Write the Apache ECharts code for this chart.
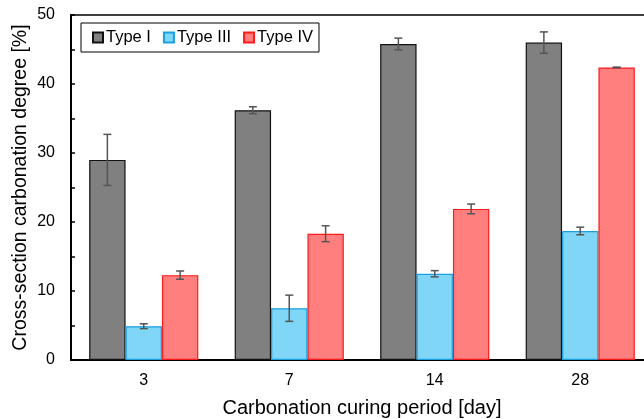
<!DOCTYPE html>
<html><head><meta charset="utf-8">
<script src="https://cdn.jsdelivr.net/npm/echarts@6/dist/echarts.min.js"></script>
<style>html,body{margin:0;padding:0;background:#fff}#c{width:644px;height:419px}</style>
</head><body><div id="c"></div>
<script>
const categories = ['3', '7', '14', '28'];
const seriesNames = ['Type I', 'Type III', 'Type IV'];
const typeI = [29.0, 36.2, 45.8, 46.0];
const typeIErr = [3.7, 0.5, 0.85, 1.55];
const typeIII = [4.9, 7.5, 12.5, 18.7];
const typeIIIErr = [0.35, 1.9, 0.45, 0.55];
const typeIV = [12.3, 18.3, 21.9, 42.4];
const typeIVErr = [0.6, 1.15, 0.7, 0.05];
const yTicks = [0, 10, 20, 30, 40, 50];

const values = [typeI, typeIII, typeIV];
const errs = [typeIErr, typeIIIErr, typeIVErr];
const fills = ['#808080', '#80d6f7', '#ff7f7f'];
const borders = ['#111111', '#1a9fe0', '#ff1a1a'];
const FONT = 'Liberation Sans, Arial, sans-serif';

const chart = echarts.init(document.getElementById('c'), null, {renderer: 'canvas'});

const errData = [];
values.forEach((vals, s) => vals.forEach((v, i) => errData.push([i, v - errs[s][i], v + errs[s][i], s])));

const series = values.map((vals, s) => ({
  name: seriesNames[s], type: 'bar', data: vals, barWidth: '25%', barGap: '0%',
  itemStyle: {color: fills[s], borderColor: borders[s], borderWidth: 1.2},
  animation: false
}));
series.push({
  type: 'custom', name: 'err', silent: true, animation: false, z: 10,
  data: errData,
  encode: {x: 0, y: [1, 2]},
  renderItem: function (params, api) {
    const i = api.value(0), lo = api.value(1), hi = api.value(2), s = api.value(3);
    const band = api.size([1, 0])[0];
    const bw = band * 0.25;
    const pLo = api.coord([i, lo]), pHi = api.coord([i, hi]);
    const x = pLo[0] + (s - 1) * bw;
    const cap = 4;
    const st = {stroke: '#555555', lineWidth: 1.5};
    return {type: 'group', children: [
      {type: 'line', shape: {x1: x, y1: pLo[1], x2: x, y2: pHi[1]}, style: st},
      {type: 'line', shape: {x1: x - cap, y1: pLo[1], x2: x + cap, y2: pLo[1]}, style: st},
      {type: 'line', shape: {x1: x - cap, y1: pHi[1], x2: x + cap, y2: pHi[1]}, style: st}
    ]};
  }
});

chart.setOption({
  animation: false,
  textStyle: {fontFamily: FONT},
  grid: {left: 71, top: 15, width: 582, height: 345, containLabel: false, outerBoundsMode: 'none',
         show: true, borderColor: '#000', borderWidth: 1.5, backgroundColor: 'transparent'},
  legend: {
    data: seriesNames, left: 81, top: 23, orient: 'horizontal',
    itemWidth: 10, itemHeight: 10, itemGap: 12, icon: 'rect',
    borderColor: '#000', borderWidth: 1, padding: [6, 6, 6, 11],
    textStyle: {fontSize: 16.5, color: '#000', fontFamily: FONT, padding: [0, 0, 0, -2]}
  },
  xAxis: {
    type: 'category', data: categories,
    name: 'Carbonation curing period [day]', nameLocation: 'middle', nameGap: 38, nameMoveOverlap: false,
    nameTextStyle: {fontSize: 20, color: '#000', fontFamily: FONT},
    axisLine: {lineStyle: {color: '#000', width: 2}},
    axisTick: {show: false},
    axisLabel: {fontSize: 16, color: '#000', margin: 13, fontFamily: FONT}
  },
  yAxis: {
    type: 'value', min: yTicks[0], max: yTicks[yTicks.length - 1], interval: 10,
    name: 'Cross-section carbonation degree [%]', nameLocation: 'middle', nameGap: 40, nameMoveOverlap: false,
    nameTextStyle: {fontSize: 19.5, color: '#000', fontFamily: FONT},
    axisLine: {show: true, lineStyle: {color: '#000', width: 2}},
    axisTick: {show: true, inside: true, length: 4, lineStyle: {color: '#000', width: 1.5}},
    minorTick: {show: true, splitNumber: 2, length: 4, lineStyle: {color: '#000', width: 1.5}},
    splitLine: {show: false},
    axisLabel: {fontSize: 16, color: '#000', margin: 16, fontFamily: FONT}
  },
  series: series
});
</script></body></html>
